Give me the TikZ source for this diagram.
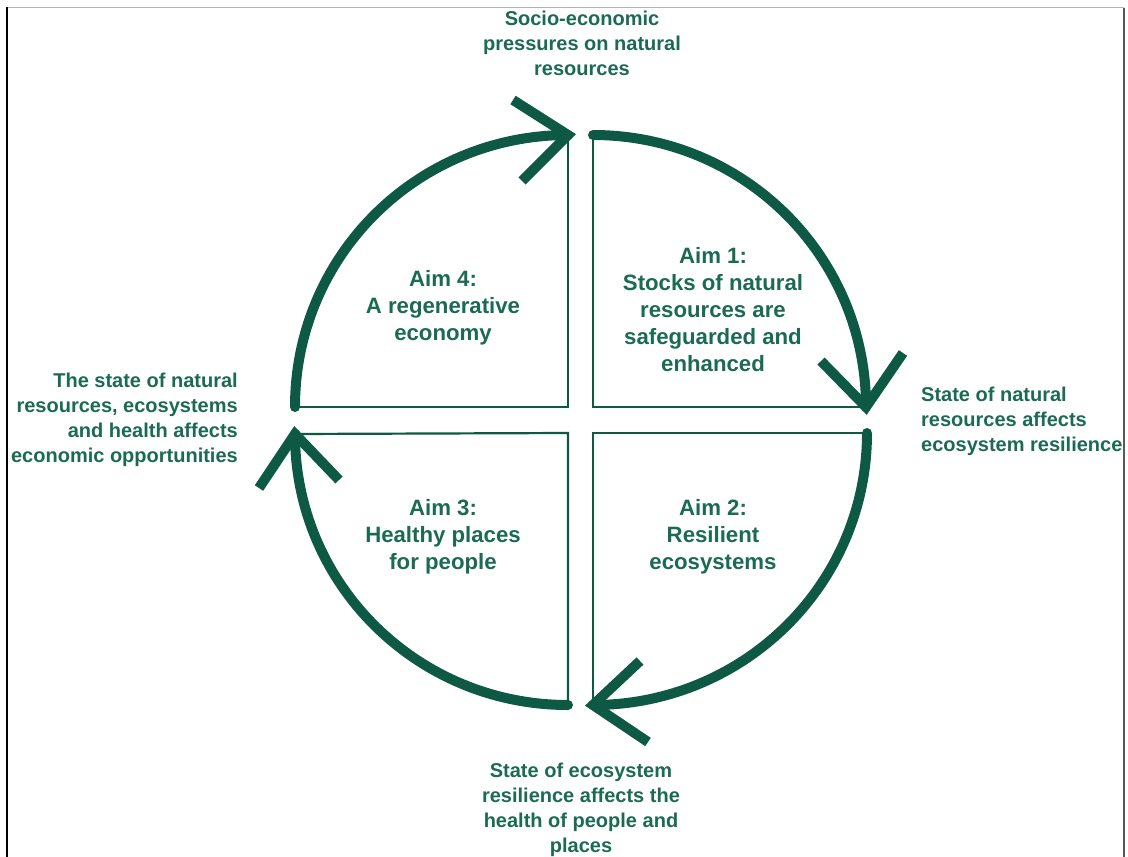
\documentclass[tikz,border=0pt]{standalone}
\usepackage{fontspec}
\setmainfont{Liberation Sans}
\definecolor{arcgreen}{HTML}{0E5944}
\definecolor{textgreen}{HTML}{1B6A54}
\begin{document}
\begin{tikzpicture}[x=1pt,y=-1pt,
  arcline/.style={draw=arcgreen,line width=10pt,line cap=round},
  headline/.style={draw=arcgreen,line width=10pt,line cap=butt,line join=miter},
  sideline/.style={draw=arcgreen,line width=2.2pt,line join=miter},
  aimtext/.style={text=textgreen,font=\bfseries\fontsize{22.2}{27}\selectfont,align=center,inner sep=0pt},
  labtext/.style={text=textgreen,font=\bfseries\fontsize{20}{25}\selectfont,inner sep=0pt}]
\useasboundingbox (0,0) rectangle (1128,857);
% frame
\draw[gray!60,line width=1.8pt] (6,7.5) -- (1124,7.5);
\draw[gray!70!black,line width=2.2pt] (1124,7.5) -- (1124,857);
\draw[black,line width=2pt] (6.5,7) -- (6.5,857);
% corner / end coordinates
\coordinate (a1s) at (593,135);
\coordinate (a1c) at (593,407);
\coordinate (a1e) at (866,407);
\coordinate (a4s) at (295,407);
\coordinate (a4c) at (568,407);
\coordinate (a4e) at (568,135);
\coordinate (a2s) at (867,433);
\coordinate (a2c) at (593,433);
\coordinate (a2e) at (593,705);
\coordinate (a3s) at (568,705);
\coordinate (a3c) at (568,433);
\coordinate (a3e) at (295,434);
% arrow arm ends
\coordinate (h1a) at (821,361);
\coordinate (h1b) at (903,353);
\coordinate (h4a) at (513,100);
\coordinate (h4b) at (522,181);
\coordinate (h2a) at (640,661);
\coordinate (h2b) at (648,742);
\coordinate (h3a) at (259,488);
\coordinate (h3b) at (339,480);
% quadrant sides
\draw[sideline] (a1s) -- (a1c) -- (a1e);
\draw[sideline] (a4e) -- (a4c) -- (a4s);
\draw[sideline] (a2s) -- (a2c) -- (a2e);
\draw[sideline] (a3s) -- (a3c) -- (a3e);
% arcs
\draw[arcline] (a1s) .. controls (744,135) and (866,256) .. (a1e);
\draw[arcline] (a4s) .. controls (295,256) and (417,135) .. (a4e);
\draw[arcline] (a2s) .. controls (867,584) and (744,705) .. (a2e);
\draw[arcline] (a3s) .. controls (417,705) and (295,584) .. (a3e);
% arrow heads
\draw[headline] (h1a) -- (a1e) -- (h1b);
\draw[headline] (h4a) -- (a4e) -- (h4b);
\draw[headline] (h2a) -- (a2e) -- (h2b);
\draw[headline] (h3a) -- (a3e) -- (h3b);
% aim texts
\node[aimtext] (aim1) at (713,310) {Aim 1:\\Stocks of natural\\resources are\\safeguarded and\\enhanced};
\node[aimtext] (aim4) at (443,308) {Aim 4:\\A regenerative\\economy};
\node[aimtext] (aim2) at (713,537) {Aim 2:\\Resilient\\ecosystems};
\node[aimtext] (aim3) at (443,537) {Aim 3:\\Healthy places\\for people};
% outer labels
\node[labtext,align=center] (ltop) at (582,43) {Socio-economic\\pressures on natural\\resources};
\node[labtext,align=left,anchor=west] (lright) at (921,421) {State of natural\\resources affects\\ecosystem resilience};
\node[labtext,align=right,anchor=east] (lleft) at (238,420) {The state of natural\\resources, ecosystems\\and health affects\\economic opportunities};
\node[labtext,align=center] (lbottom) at (581,810) {State of ecosystem\\resilience affects the\\health of people and\\places};
\end{tikzpicture}
\end{document}
